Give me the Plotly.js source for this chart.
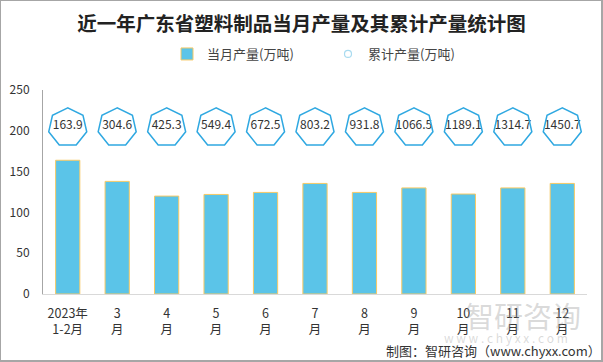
<!DOCTYPE html>
<html>
<head>
<meta charset="utf-8">
<script src="https://cdn.plot.ly/plotly-3.0.1.min.js"></script>
<style>
  html, body { margin: 0; padding: 0; background: #fff; }
  #wrap { position: relative; width: 603px; height: 362px; }
  #chart { width: 603px; height: 362px; }
  #frame { position: absolute; left: 0; top: 0; width: 603px; height: 362px; box-sizing: border-box;
           border: 1px solid #a6a6a6; border-right-width: 2px; border-bottom-width: 2px; pointer-events: none; }
</style>
</head>
<body>
<div id="wrap"><div id="chart"></div><div id="frame"></div></div>
<script>
// ---- data ----
const categories = ["2023年<br>1-2月", "3<br>月", "4<br>月", "5<br>月", "6<br>月", "7<br>月", "8<br>月", "9<br>月", "10<br>月", "11<br>月", "12<br>月"];
const monthlyOutput = [163.9, 138.0, 120.0, 122.0, 124.5, 135.5, 124.5, 130.0, 122.5, 130.0, 135.5];
const cumulativeOutput = [163.9, 304.6, 425.3, 549.4, 672.5, 803.2, 931.8, 1066.5, 1189.1, 1314.7, 1450.7];
const yTicks = [0, 50, 100, 150, 200, 250];

// ---- styling ----
const FONT = '"Noto Sans CJK SC", "Noto Sans", sans-serif';
const labelRowY = 206;          // height of the cumulative label row (axis units)
const R = 19.5;                 // heptagon circumradius in px
const PL = 43, PW = 544, PB = 294, PH = 204;   // plot area in px
const px2x = px => (px - PL) / PW;
const px2y = py => (PB - py) / PH;

function heptagonPath() {
  let d = '';
  for (let k = 0; k < 7; k++) {
    const a = Math.PI / 2 + k * 2 * Math.PI / 7;
    const px = R * Math.cos(a);
    const py = R * Math.sin(a) - 1.5;
    d += (k === 0 ? 'M' : 'L') + px.toFixed(2) + ',' + py.toFixed(2);
  }
  return d + 'Z';
}
const hp = heptagonPath();
const shapes = categories.map((c, i) => ({
  type: 'path', xref: 'x', yref: 'y',
  xsizemode: 'pixel', ysizemode: 'pixel',
  xanchor: i, yanchor: labelRowY,
  path: hp,
  line: { color: '#2fa8e1', width: 1.5 },
  fillcolor: 'rgba(255,255,255,0)',
  layer: 'above'
}));

const traces = [
  {
    type: 'bar', name: '当月产量(万吨)',
    x: categories, y: monthlyOutput,
    marker: { color: '#5bc4e8', line: { color: '#f7c964', width: 1 } },
    hoverinfo: 'x+y'
  },
  {
    type: 'scatter', mode: 'text', showlegend: false,
    x: categories, y: cumulativeOutput.map(() => labelRowY),
    text: cumulativeOutput.map(v => v.toFixed(1)),
    textposition: 'middle center',
    textfont: { family: FONT, size: 12, color: '#333' },
    hoverinfo: 'text'
  },
  {
    type: 'scatter', mode: 'markers', name: '累计产量(万吨)',
    x: [categories[0]], y: [null],
    marker: { symbol: 'circle-open', size: 7, color: '#a9dbf0', line: { width: 1.2 } }
  }
];

const layout = {
  width: 603, height: 362,
  margin: { l: PL, r: 603 - PL - PW, t: PB - PH, b: 362 - PB },
  paper_bgcolor: '#fff', plot_bgcolor: '#fff',
  font: { family: FONT, size: 12, color: '#333' },
  title: {
    text: '<b>近一年广东省塑料制品当月产量及其累计产量统计图</b>',
    font: { family: FONT, size: 19.5, color: '#222' },
    x: 0.5, xref: 'container', xanchor: 'center',
    y: 1 - 24 / 362, yref: 'container', yanchor: 'middle'
  },
  showlegend: true,
  legend: {
    orientation: 'h', x: (186 - 19) / 603, xanchor: 'left', xref: 'container',
    y: 1 - 54 / 362, yref: 'container', yanchor: 'middle',
    font: { family: FONT, size: 13, color: '#444' },
    itemwidth: 30, entrywidth: 116, entrywidthmode: 'pixels', traceorder: 'normal'
  },
  bargap: 0.51,
  xaxis: {
    type: 'category', range: [-0.5, categories.length - 0.5], autorange: false,
    showgrid: false, zeroline: false,
    showline: true, linecolor: '#d9d9d9', linewidth: 1,
    ticks: '', ticklabelstandoff: 8, tickfont: { family: FONT, size: 12.5, color: '#333' },
    fixedrange: true
  },
  yaxis: {
    range: [0, 250], autorange: false, tickvals: yTicks, ticktext: yTicks.map(String),
    showgrid: false, zeroline: false,
    showline: true, linecolor: '#a6a6a6', linewidth: 1,
    ticks: '', ticklabelstandoff: 10,
    tickfont: { family: FONT, size: 12, color: '#333' },
    fixedrange: true
  },
  shapes: shapes,
  annotations: [
    { text: '智研咨询', xref: 'paper', yref: 'paper', x: px2x(523), y: px2y(315),
      showarrow: false, font: { family: FONT, size: 29, color: 'rgba(150,150,150,0.35)' }, xanchor: 'center', yanchor: 'middle' },
    { text: 'w w w . c h y x x . c o m', xref: 'paper', yref: 'paper', x: px2x(506), y: px2y(337),
      showarrow: false, font: { family: FONT, size: 12, color: 'rgba(150,150,150,0.35)' }, xanchor: 'center', yanchor: 'middle' },
    { text: '制图：智研咨询（www.chyxx.com）', xref: 'paper', yref: 'paper', x: px2x(603), y: px2y(350),
      showarrow: false, font: { family: FONT, size: 13, color: '#333' }, xanchor: 'right', yanchor: 'middle' }
  ]
};

Plotly.newPlot('chart', traces, layout, { displayModeBar: false, staticPlot: true });
</script>
</body>
</html>
